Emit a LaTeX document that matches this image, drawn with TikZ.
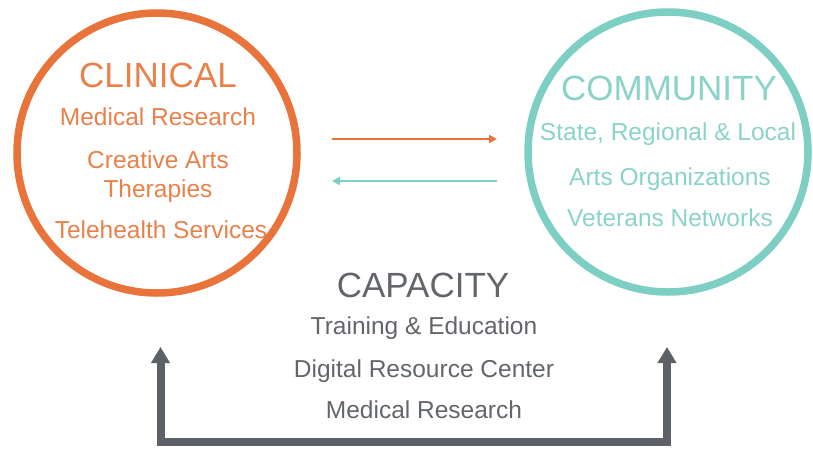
\documentclass[tikz,border=0pt]{standalone}
\usepackage{fontspec}
\setmainfont{Liberation Sans}
\usetikzlibrary{arrows.meta}
\definecolor{clin}{HTML}{E8743B}
\definecolor{clintext}{HTML}{E8814A}
\definecolor{comm}{HTML}{7DCEC3}
\definecolor{commtext}{HTML}{8AD3C8}
\definecolor{capgray}{HTML}{5C6167}
\definecolor{captext}{HTML}{62666B}
\tikzset{
  ring/.style={circle, draw, line width=7.5pt, minimum size=280pt, inner sep=0pt},
  head/.style={font=\fontsize{35}{35}\selectfont, anchor=base, inner sep=0pt},
  item/.style={font=\fontsize{24.5}{24.5}\selectfont, anchor=base, inner sep=0pt},
  flow/.style={line width=2.5pt, -{Triangle[width=8pt,length=8pt]}},
  bracket/.style={line width=8pt, capgray, line cap=butt, line join=miter,
    {Triangle[width=18pt,length=16pt]}-{Triangle[width=18pt,length=16pt]}},
}
\begin{document}
\begin{tikzpicture}[x=1pt,y=-1pt]
\useasboundingbox (0,0) rectangle (813,450);
% circles
\node[ring, draw=clin] (clinical) at (157,153) {};
\node[ring, draw=comm] (community) at (668,152) {};
% clinical texts
\node[head, text=clintext] (clinhead) at (158,87) {CLINICAL};
\node[item, text=clintext] (c1) at (158,125) {Medical Research};
\node[item, text=clintext] (c2) at (158,168) {Creative Arts};
\node[item, text=clintext] (c3) at (158,197) {Therapies};
\node[item, text=clintext] (c4) at (161,238) {Telehealth Services};
% community texts
\node[head, text=commtext] (commhead) at (669,100) {COMMUNITY};
\node[item, text=commtext] (m1) at (668,140) {State, Regional \& Local};
\node[item, text=commtext] (m2) at (670,185) {Arts Organizations};
\node[item, text=commtext] (m3) at (670,226) {Veterans Networks};
% capacity texts
\node[head, text=captext] (caphead) at (423,297) {CAPACITY};
\node[item, text=captext] (k1) at (424,334) {Training \& Education};
\node[item, text=captext] (k2) at (424,377) {Digital Resource Center};
\node[item, text=captext] (k3) at (424,418) {Medical Research};
% exchange arrows
\coordinate (oa) at (332,139);
\coordinate (ob) at (497,139);
\coordinate (ta) at (497,181);
\coordinate (tb) at (332,181);
\draw[flow, clin] (oa) -- (ob);
\draw[flow, comm] (ta) -- (tb);
% bracket
\coordinate (ltip) at (160.5,347);
\coordinate (lcorner) at (160.5,442);
\coordinate (rcorner) at (667,442);
\coordinate (rtip) at (667,347);
\draw[bracket] (ltip) -- (lcorner) -- (rcorner) -- (rtip);
\end{tikzpicture}
\end{document}
